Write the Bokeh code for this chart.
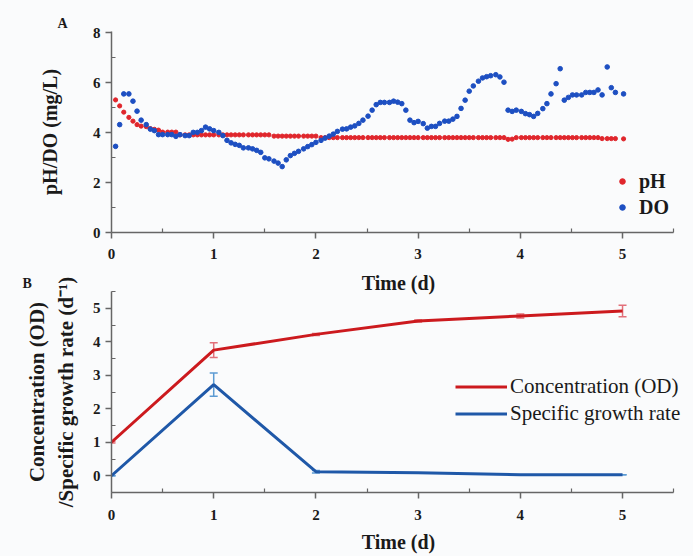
from bokeh.plotting import figure
from bokeh.models import (Range1d, FixedTicker, Legend, LegendItem,
                          ColumnDataSource, Whisker, TeeHead)
from bokeh.layouts import column
from bokeh.embed import file_html
from bokeh.resources import INLINE

# ---------------- Panel A data ----------------
time_d = [
    0.04, 0.08, 0.12, 0.17, 0.21, 0.25, 0.29, 0.34, 0.38, 0.42, 0.46, 0.50,
    0.55, 0.59, 0.63, 0.67, 0.72, 0.76, 0.80, 0.84, 0.88, 0.92, 0.96, 1.00,
    1.05, 1.09, 1.13, 1.17, 1.21, 1.25, 1.29, 1.34, 1.38, 1.42, 1.46, 1.50,
    1.54, 1.59, 1.63, 1.67, 1.71, 1.75, 1.79, 1.83, 1.88, 1.92, 1.96, 2.00,
    2.05, 2.09, 2.13, 2.17, 2.21, 2.26, 2.30, 2.34, 2.38, 2.42, 2.46, 2.51,
    2.55, 2.59, 2.63, 2.67, 2.72, 2.76, 2.80, 2.84, 2.88, 2.92, 2.96, 3.00,
    3.05, 3.09, 3.13, 3.17, 3.21, 3.26, 3.30, 3.34, 3.38, 3.42, 3.46, 3.50,
    3.54, 3.59, 3.63, 3.67, 3.71, 3.76, 3.80, 3.84, 3.88, 3.92, 3.96, 4.01,
    4.05, 4.09, 4.13, 4.17, 4.22, 4.26, 4.30, 4.35, 4.39, 4.43, 4.47, 4.51,
    4.55, 4.60, 4.64, 4.68, 4.72, 4.76, 4.80, 4.85, 4.89, 4.93, 5.01,
]
do_mgL = [
    3.45, 4.32, 5.55, 5.55, 5.26, 4.86, 4.50, 4.32, 4.14, 4.08, 3.92, 3.92,
    3.92, 3.92, 3.85, 3.92, 3.88, 3.88, 4.01, 4.01, 4.08, 4.22, 4.15, 4.08,
    4.01, 3.88, 3.69, 3.59, 3.53, 3.49, 3.39, 3.39, 3.35, 3.29, 3.21, 2.99,
    2.95, 2.86, 2.78, 2.64, 2.91, 3.08, 3.17, 3.25, 3.35, 3.44, 3.52, 3.61,
    3.69, 3.78, 3.86, 3.94, 4.05, 4.14, 4.15, 4.22, 4.27, 4.37, 4.50, 4.66,
    4.90, 5.12, 5.21, 5.21, 5.21, 5.26, 5.22, 5.16, 4.90, 4.50, 4.40, 4.45,
    4.36, 4.18, 4.25, 4.25, 4.37, 4.46, 4.46, 4.54, 4.65, 4.97, 5.30, 5.66,
    5.87, 6.06, 6.19, 6.24, 6.28, 6.32, 6.23, 6.02, 4.90, 4.85, 4.90, 4.85,
    4.76, 4.72, 4.65, 4.77, 4.96, 5.16, 5.55, 5.96, 6.56, 5.30, 5.41, 5.51,
    5.51, 5.51, 5.61, 5.61, 5.61, 5.71, 5.51, 6.63, 5.80, 5.61, 5.55,
]
ph = [
    5.31, 5.07, 4.82, 4.61, 4.46, 4.32, 4.26, 4.24, 4.16, 4.13, 4.10, 4.02,
    4.02, 4.02, 4.02, 3.91, 3.91, 3.91, 3.91, 3.91, 3.91, 3.91, 3.91, 3.91,
    3.91, 3.91, 3.91, 3.91, 3.91, 3.91, 3.91, 3.91, 3.91, 3.91, 3.91, 3.91,
    3.91, 3.86, 3.86, 3.86, 3.86, 3.86, 3.86, 3.86, 3.86, 3.86, 3.86, 3.86,
    3.80, 3.80, 3.80, 3.80, 3.80, 3.80, 3.80, 3.80, 3.80, 3.80, 3.80, 3.80,
    3.80, 3.80, 3.80, 3.80, 3.80, 3.80, 3.80, 3.80, 3.80, 3.80, 3.80, 3.80,
    3.80, 3.80, 3.80, 3.80, 3.80, 3.80, 3.80, 3.80, 3.80, 3.80, 3.80, 3.80,
    3.80, 3.80, 3.80, 3.80, 3.80, 3.80, 3.80, 3.80, 3.73, 3.74, 3.80, 3.80,
    3.80, 3.80, 3.80, 3.80, 3.80, 3.80, 3.80, 3.80, 3.80, 3.80, 3.80, 3.80,
    3.80, 3.80, 3.80, 3.80, 3.80, 3.80, 3.76, 3.76, 3.76, 3.76, 3.75,
]

# ---------------- Panel B data ----------------
days = [0, 1, 2, 3, 4, 5]
od = [1.00, 3.75, 4.22, 4.62, 4.77, 4.92]
od_err = [0.02, 0.22, 0.03, 0.03, 0.06, 0.17]
mu = [0.00, 2.72, 0.12, 0.09, 0.03, 0.03]
mu_err = [0.00, 0.35, 0.04, 0.00, 0.00, 0.00]

# ---------------- ticks ----------------
x_major = [0, 1, 2, 3, 4, 5]
x_minor = [0.5, 1.5, 2.5, 3.5, 4.5, 5.5]
ya_major = [0, 2, 4, 6, 8]
ya_minor = [1, 3, 5, 7]
yb_major = [0, 1, 2, 3, 4, 5]
yb_minor = [-0.5, 0.5, 1.5, 2.5, 3.5, 4.5, 5.5]

FONT = "Liberation Serif"
BG = "#fafbfc"
AX = "#666666"
TXT = "#1a1a1a"
RED_PT = "#e0262c"
BLUE_PT = "#1d4fc2"
RED_LN = "#cc1a1e"
BLUE_LN = "#1f58a8"
RED_ERR = "#e2707a"
BLUE_ERR = "#5c9bd3"


def style(p, xt, yt):
    p.grid.visible = False
    p.outline_line_color = None
    p.background_fill_alpha = 0
    p.border_fill_alpha = 0
    p.xaxis.ticker = xt
    p.yaxis.ticker = yt
    p.xaxis.bounds = (0, 5.5)
    for ax in (p.xaxis[0], p.yaxis[0]):
        ax.axis_line_color = AX
        ax.axis_line_width = 1.5
        ax.major_tick_line_color = AX
        ax.major_tick_line_width = 1.5
        ax.minor_tick_line_color = AX
        ax.minor_tick_line_width = 1.2
        ax.major_tick_out = 6
        ax.major_tick_in = 0
        ax.minor_tick_out = 0
        ax.minor_tick_in = 4
        ax.major_label_text_font = FONT
        ax.major_label_text_font_style = "bold"
        ax.major_label_text_font_size = "15px"
        ax.major_label_text_color = TXT
        ax.axis_label_text_font = FONT
        ax.axis_label_text_font_style = "bold"
        ax.axis_label_text_font_size = "20px"
        ax.axis_label_text_color = TXT
    p.title.text_font = FONT
    p.title.text_font_style = "bold"
    p.title.text_font_size = "14px"
    p.title.text_color = TXT
    p.title.align = "left"
    p.title.standoff = 2


# ---------------- Panel A ----------------
# frame runs a little past x=5.5 (room for legends); axes are bounded to 0..5.5
p1 = figure(width=693, height=302, output_backend="svg", toolbar_location=None,
            title="A",
            x_range=Range1d(0, 5.616), y_range=Range1d(0, 8.05),
            min_border_left=111, min_border_right=8,
            min_border_top=31, min_border_bottom=70)
style(p1, FixedTicker(ticks=x_major, minor_ticks=x_minor),
      FixedTicker(ticks=ya_major, minor_ticks=ya_minor))
p1.title.offset = -54
p1.xaxis.axis_label = "Time (d)"
p1.yaxis.axis_label = "pH/DO (mg/L)"
p1.xaxis.major_label_standoff = 10
p1.xaxis.axis_label_standoff = 10
p1.yaxis.major_label_standoff = 5
p1.yaxis.axis_label_standoff = 29

srcA = ColumnDataSource(dict(t=time_d, ph=ph, do=do_mgL))
r_ph = p1.scatter("t", "ph", source=srcA, size=4.2, color=RED_PT)
r_do = p1.scatter("t", "do", source=srcA, size=4.6, color=BLUE_PT)

leg1 = Legend(items=[LegendItem(label="pH", renderers=[r_ph]),
                     LegendItem(label="DO", renderers=[r_do])],
              location=(504, 12), padding=0, margin=0, spacing=0,
              glyph_width=14, glyph_height=26, label_height=26,
              label_standoff=10, border_line_color=None,
              background_fill_alpha=0,
              label_text_font=FONT, label_text_font_style="bold",
              label_text_font_size="20px", label_text_color=TXT)
p1.add_layout(leg1)

# ---------------- Panel B ----------------
p2 = figure(width=693, height=284, output_backend="svg", toolbar_location=None,
            title="B",
            x_range=Range1d(0, 5.616), y_range=Range1d(-0.5, 5.5),
            min_border_left=111, min_border_right=8,
            min_border_top=18, min_border_bottom=64,
            margin=(-30, 0, 0, 0))
style(p2, FixedTicker(ticks=x_major, minor_ticks=x_minor),
      FixedTicker(ticks=yb_major, minor_ticks=yb_minor))
p2.title.offset = -89
p2.xaxis.axis_label = "Time (d)"
p2.yaxis.axis_label = "Concentration (OD)\n/Specific growth rate (d\u207b\u00b9)"
p2.yaxis.axis_label_text_font_size = "21px"
p2.xaxis.major_label_standoff = 11
p2.xaxis.axis_label_standoff = 8
p2.yaxis.major_label_standoff = 5
p2.yaxis.axis_label_standoff = 12

srcB = ColumnDataSource(dict(
    d=days, od=od, mu=mu,
    od_up=[a + b for a, b in zip(od, od_err)],
    od_lo=[a - b for a, b in zip(od, od_err)],
    mu_up=[a + b for a, b in zip(mu, mu_err)],
    mu_lo=[a - b for a, b in zip(mu, mu_err)],
))
r_od = p2.line("d", "od", source=srcB, line_width=3, color=RED_LN)
r_mu = p2.line("d", "mu", source=srcB, line_width=3, color=BLUE_LN)

for up, lo, col in (("od_up", "od_lo", RED_ERR), ("mu_up", "mu_lo", BLUE_ERR)):
    w = Whisker(base="d", upper=up, lower=lo, source=srcB,
                line_color=col, line_width=1.5,
                upper_head=TeeHead(size=8, line_color=col, line_width=1.5),
                lower_head=TeeHead(size=8, line_color=col, line_width=1.5))
    p2.add_layout(w)

leg2 = Legend(items=[LegendItem(label="Concentration (OD)", renderers=[r_od]),
                     LegendItem(label="Specific growth rate", renderers=[r_mu])],
              location=(344, 65), padding=0, margin=0, spacing=0,
              glyph_width=52, glyph_height=27, label_height=27,
              label_standoff=3, border_line_color=None,
              background_fill_alpha=0,
              label_text_font=FONT, label_text_font_size="21px",
              label_text_color=TXT)
p2.add_layout(leg2)

layout = column(p1, p2, spacing=0, background=BG)
open("out.html", "w").write(file_html(layout, INLINE))
